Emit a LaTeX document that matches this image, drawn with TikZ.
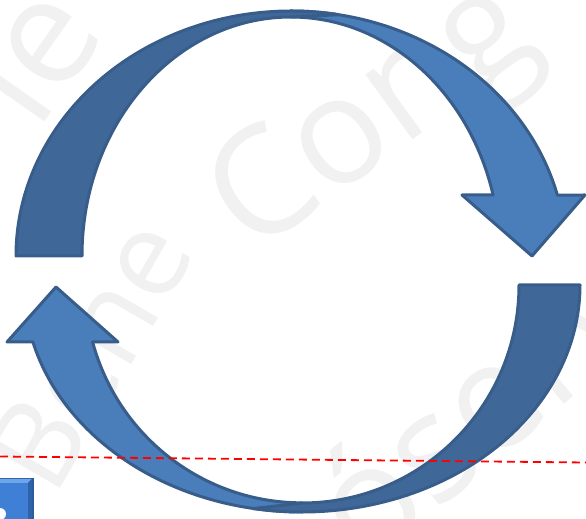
\documentclass[tikz,border=0pt]{standalone}
\usepackage{fontspec}
\setmainfont{Open Sans}
\definecolor{frontblue}{HTML}{4A7EBB}
\definecolor{backblue}{HTML}{3F6899}
\definecolor{edgeblue}{HTML}{385D8A}
\definecolor{wmgray}{HTML}{F1F1F1}
\definecolor{btnblue}{HTML}{3F80D6}
\definecolor{btnlight}{HTML}{6EA6EA}
\definecolor{btndark}{HTML}{2A5C9E}
\begin{document}
\begin{tikzpicture}[x=1pt,y=1pt,
  front/.style={fill=frontblue, draw=edgeblue, line width=3pt, line join=round},
  back/.style={fill=backblue, draw=edgeblue, line width=3pt, line join=round},
  wm/.style={text=wmgray, font=\fontsize{150}{150}\selectfont, inner sep=0pt},
  wmsmall/.style={text=wmgray, font=\fontsize{120}{120}\selectfont, inner sep=0pt},
  guide/.style={draw=red, line width=1.8pt, dash pattern=on 8pt off 5pt}]
\useasboundingbox (0,0) rectangle (586,519);
% watermark
\node[wm, rotate=55, anchor=base east] (wmA) at (108,487) {le};
\node[wm, rotate=36, anchor=base west] (wmB) at (252,262) {Cong};
\node[wmsmall, rotate=60, anchor=base west] (wmC) at (54,20) {Bene};
\node[wm, rotate=40, anchor=base west] (wmD) at (366,-52) {óserv};
% top arrow
\draw[front] (291,508) arc[start angle=90, end angle=14.4, x radius=275, y radius=245]
  -- (585,324) -- (532,263) -- (462,324) -- (493.1,324)
  arc[start angle=14.8, end angle=90, x radius=209, y radius=239] -- cycle;
\draw[back] (16,263) arc[start angle=180, end angle=80, x radius=275, y radius=245]
  -- (291,502) arc[start angle=90, end angle=180, x radius=209, y radius=239] -- cycle;
% bottom arrow
\draw[front] (302,7) arc[start angle=270, end angle=194.5, x radius=278, y radius=227]
  -- (7,177) -- (56,232) -- (118,177) -- (92.6,177)
  arc[start angle=195.2, end angle=270, x radius=217, y radius=218] -- cycle;
\draw[back] (580,234) arc[start angle=0, end angle=-100, x radius=278, y radius=227]
  -- (302,16) arc[start angle=-90, end angle=0, x radius=217, y radius=218] -- cycle;
% guide line
\coordinate (gl) at (0,62.5);
\coordinate (gr) at (586,56.5);
\draw[guide] (gl) -- (gr);
% partial button
\fill[btndark] (0,0) rectangle (34,41);
\fill[btnblue] (0,0) rectangle (32,40);
\fill[btnlight] (0,40) -- (32,40) -- (28,36) -- (0,36) -- cycle;
\fill[btndark!80!btnblue] (32,40) -- (32,0) -- (28,0) -- (28,36) -- cycle;
\fill[white] (0,5) circle (6);
\end{tikzpicture}
\end{document}
